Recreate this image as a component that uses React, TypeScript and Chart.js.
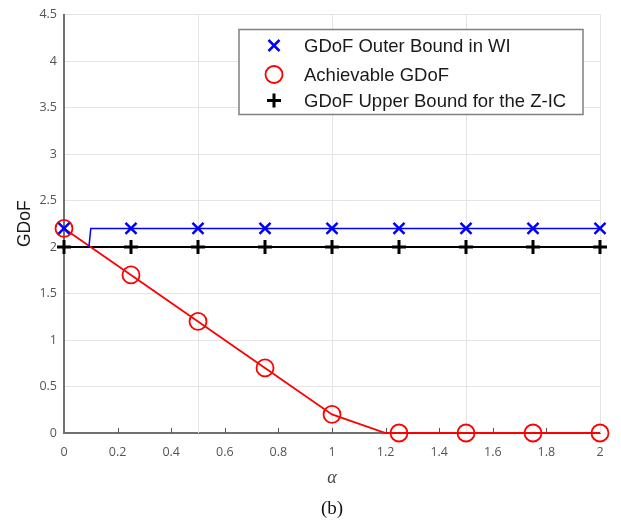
import React, { useEffect, useRef } from "react";
import { Chart, registerables } from "chart.js";

Chart.register(...registerables);

// ---- data ----
const alphaMarks = [0, 0.25, 0.5, 0.75, 1, 1.25, 1.5, 1.75, 2];
const outerBoundMarks = [2.2, 2.2, 2.2, 2.2, 2.2, 2.2, 2.2, 2.2, 2.2];
const achievableMarks = [2.2, 1.7, 1.2, 0.7, 0.2, 0, 0, 0, 0];
const upperBoundMarks = [2, 2, 2, 2, 2, 2, 2, 2, 2];

const outerLineX = [0.093, 0.1, 2];
const outerLineY = [2.0, 2.2, 2.2];
const achievableLineX = [0, 0.25, 0.5, 0.75, 1, 1.2, 2];
const achievableLineY = [2.2, 1.7, 1.2, 0.7, 0.2, 0, 0];
const upperLineX = [0, 2];
const upperLineY = [2, 2];

const xGridValues = [0.5, 1, 1.5, 2];
const xTickMarks = [0.2, 0.4, 0.6, 0.8, 1, 1.2, 1.4, 1.6, 1.8];

const seriesLabels = [
  "GDoF Outer Bound in WI",
  "Achievable GDoF",
  "GDoF Upper Bound for the Z-IC",
];

const BLUE = "#0000ff";
const RED = "#ff0000";
const BLACK = "#000000";

const zip = (xs: number[], ys: number[]) => xs.map((x, i) => ({ x, y: ys[i] }));
const fmt = (v: any) => String(parseFloat(Number(v).toFixed(2)));

const gridPlugin = {
  id: "customGrid",
  beforeDatasetsDraw(chart: any) {
    const { ctx, chartArea, scales } = chart;
    const xs = scales.x;
    ctx.save();
    ctx.strokeStyle = "#e4e4e4";
    ctx.lineWidth = 1;
    xGridValues.forEach((v) => {
      const px = Math.round(xs.getPixelForValue(v)) + 0.5;
      ctx.beginPath();
      ctx.moveTo(px, chartArea.top);
      ctx.lineTo(px, chartArea.bottom);
      ctx.stroke();
    });
    ctx.strokeStyle = "#555";
    ctx.lineWidth = 1;
    xTickMarks.forEach((v) => {
      const px = Math.round(xs.getPixelForValue(v)) + 0.5;
      ctx.beginPath();
      ctx.moveTo(px, chartArea.bottom);
      ctx.lineTo(px, chartArea.bottom - 5);
      ctx.stroke();
    });
    ctx.restore();
  },
};

const legendPlugin = {
  id: "boxLegend",
  afterDraw(chart: any) {
    const { ctx, chartArea } = chart;
    const right = chartArea.right - 17;
    const left = right - 344;
    const top = chartArea.top + 15;
    const h = 85;
    ctx.save();
    ctx.fillStyle = "#ffffff";
    ctx.fillRect(left, top, right - left, h);
    ctx.strokeStyle = "#808080";
    ctx.lineWidth = 1.5;
    ctx.strokeRect(left, top, right - left, h);
    const rows = [top + 16, top + 45, top + 71];
    const mx = left + 35;
    // blue x
    ctx.strokeStyle = BLUE;
    ctx.lineWidth = 2.5;
    let y = rows[0];
    ctx.beginPath();
    ctx.moveTo(mx - 5.5, y - 5.5);
    ctx.lineTo(mx + 5.5, y + 5.5);
    ctx.moveTo(mx + 5.5, y - 5.5);
    ctx.lineTo(mx - 5.5, y + 5.5);
    ctx.stroke();
    // red circle
    y = rows[1];
    ctx.strokeStyle = RED;
    ctx.lineWidth = 1.8;
    ctx.beginPath();
    ctx.arc(mx, y, 8.5, 0, Math.PI * 2);
    ctx.stroke();
    // black plus
    y = rows[2];
    ctx.strokeStyle = BLACK;
    ctx.lineWidth = 3;
    ctx.beginPath();
    ctx.moveTo(mx - 7, y);
    ctx.lineTo(mx + 7, y);
    ctx.moveTo(mx, y - 7);
    ctx.lineTo(mx, y + 7);
    ctx.stroke();
    ctx.fillStyle = "#1a1a1a";
    ctx.font = "18.5px 'Liberation Sans', Arial, sans-serif";
    ctx.textBaseline = "middle";
    ctx.textAlign = "left";
    seriesLabels.forEach((t, i) => ctx.fillText(t, left + 65, rows[i] + 1));
    ctx.restore();
  },
};

export default function App() {
  const ref = useRef<HTMLCanvasElement | null>(null);
  useEffect(() => {
    if (!ref.current) return;
    const tickFont = { family: "'Open Sans', sans-serif", size: 12.5 };
    const chart = new Chart(ref.current, {
      type: "line",
      data: {
        datasets: [
          {
            label: seriesLabels[0],
            data: zip(alphaMarks, outerBoundMarks),
            showLine: false,
            pointStyle: "crossRot",
            pointRadius: 7.8,
            pointBorderWidth: 2.5,
            pointBorderColor: BLUE,
            pointBackgroundColor: "transparent",
            borderColor: BLUE,
            order: 0,
            clip: false,
          },
          {
            label: "outer-line",
            data: zip(outerLineX, outerLineY),
            pointRadius: 0,
            borderColor: BLUE,
            borderWidth: 1.5,
            order: 1,
            clip: false,
          },
          {
            label: seriesLabels[1],
            data: zip(alphaMarks, achievableMarks),
            showLine: false,
            pointStyle: "circle",
            pointRadius: 8.5,
            pointBorderWidth: 1.8,
            pointBorderColor: RED,
            pointBackgroundColor: "transparent",
            borderColor: RED,
            order: 2,
            clip: false,
          },
          {
            label: "achievable-line",
            data: zip(achievableLineX, achievableLineY),
            pointRadius: 0,
            borderColor: RED,
            borderWidth: 1.8,
            order: 3,
            clip: false,
          },
          {
            label: seriesLabels[2],
            data: zip(alphaMarks, upperBoundMarks),
            showLine: false,
            pointStyle: "cross",
            pointRadius: 7,
            pointBorderWidth: 3,
            pointBorderColor: BLACK,
            pointBackgroundColor: "transparent",
            borderColor: BLACK,
            order: 4,
            clip: false,
          },
          {
            label: "upper-line",
            data: zip(upperLineX, upperLineY),
            pointRadius: 0,
            borderColor: BLACK,
            borderWidth: 2,
            order: 5,
            clip: false,
          },
        ],
      },
      options: {
        animation: false,
        responsive: false,
        devicePixelRatio: 1,
        layout: { padding: { top: 9, right: 21, left: 0, bottom: 0 } },
        plugins: { legend: { display: false }, tooltip: { enabled: false } },
        scales: {
          x: {
            type: "linear",
            min: 0,
            max: 2,
            ticks: { stepSize: 0.2, padding: 12, color: "#555", font: tickFont, maxRotation: 0, callback: fmt },
            grid: { display: false, drawTicks: false },
            border: { display: true, color: "#707070", width: 2 },
            title: {
              display: true,
              text: "α",
              color: "#444",
              font: { family: "'Liberation Serif', serif", style: "italic", size: 18 },
              padding: { top: 0, bottom: 32 },
            },
            afterFit: (s: any) => {
              s.height = 88;
            },
          },
          y: {
            type: "linear",
            min: 0,
            max: 4.5,
            ticks: { stepSize: 0.5, padding: 7, color: "#555", font: tickFont, callback: fmt },
            grid: { color: "#e4e4e4", drawTicks: false, lineWidth: 1 },
            border: { display: true, color: "#707070", width: 2 },
            title: {
              display: true,
              text: "GDoF",
              color: "#1a1a1a",
              font: { family: "'Liberation Sans', Arial, sans-serif", size: 17.5 },
              padding: { top: 15, bottom: 0 },
            },
            afterFit: (s: any) => {
              s.width = 64;
            },
          },
        },
      } as any,
      plugins: [gridPlugin, legendPlugin],
    });
    return () => chart.destroy();
  }, []);

  return (
    <div style={{ position: "absolute", left: 0, top: 0, width: 621, height: 521, background: "#fff" }}>
      <canvas ref={ref} width={621} height={521} style={{ width: 621, height: 521, display: "block" }} />
      <div
        style={{
          position: "absolute",
          left: 0,
          width: 664,
          top: 496,
          lineHeight: "24px",
          textAlign: "center",
          fontFamily: "'Liberation Serif', 'Times New Roman', serif",
          fontSize: 19,
          color: "#111",
        }}
      >
        (b)
      </div>
    </div>
  );
}
